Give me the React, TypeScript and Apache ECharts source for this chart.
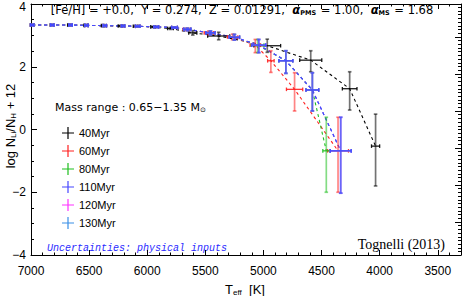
import React, { useEffect, useRef } from "react";
import * as echarts from "echarts";

const ages = ["40Myr", "60Myr", "80Myr", "110Myr", "120Myr", "130Myr"];
const colors = ["#000000", "#ff2020", "#1fbf1f", "#4646ff", "#ff33ff", "#3a8fe6"];

const xTicks = [7000, 6500, 6000, 5500, 5000, 4500, 4000, 3500];
const yTicks = [-4, -2, 0, 2, 4];

// 40 Myr
const teff40 = [6990, 6820, 6670, 6530, 6380, 6230, 6100, 5950, 5800, 5608, 5385, 4967, 4593, 4258, 4035];
const li40 = [3.33, 3.33, 3.33, 3.32, 3.31, 3.3, 3.29, 3.27, 3.22, 3.08, 2.98, 2.67, 2.21, 1.3, -0.53];
const tErr40 = [15, 15, 15, 15, 15, 20, 20, 20, 25, 35, 95, 115, 95, 63, 35];
const liLo40 = [0.02, 0.02, 0.02, 0.02, 0.02, 0.02, 0.02, 0.02, 0.03, 0.07, 0.12, 0.21, 0.37, 0.68, 1.27];
const liHi40 = [0.02, 0.02, 0.02, 0.02, 0.02, 0.02, 0.02, 0.02, 0.03, 0.07, 0.12, 0.21, 0.3, 0.54, 1.02];

// 60 Myr
const teff60 = [6990, 6817, 6660, 6522, 6365, 6208, 6082, 5922, 5765, 5660, 5470, 5265, 5070, 4936, 4732, 4358];
const li60 = [3.33, 3.33, 3.33, 3.32, 3.31, 3.3, 3.29, 3.27, 3.25, 3.19, 3.08, 2.95, 2.69, 2.19, 1.28, -0.68];
const tErr60 = [15, 15, 15, 15, 15, 15, 20, 20, 25, 30, 40, 45, 45, 28, 70, 90];
const liLo60 = [0.02, 0.02, 0.02, 0.02, 0.02, 0.02, 0.02, 0.02, 0.02, 0.04, 0.06, 0.09, 0.24, 0.37, 0.69, 1.32];
const liHi60 = [0.02, 0.02, 0.02, 0.02, 0.02, 0.02, 0.02, 0.02, 0.02, 0.04, 0.06, 0.09, 0.18, 0.32, 0.53, 1.07];

// 80 Myr
const teff80 = [6990, 6817, 6660, 6522, 6365, 6208, 6082, 5922, 5765, 5654, 5456, 5250, 5050, 4807, 4579, 4459];
const li80 = [3.33, 3.33, 3.33, 3.32, 3.31, 3.3, 3.29, 3.27, 3.25, 3.19, 3.08, 2.94, 2.69, 2.19, 1.26, -0.68];
const tErr80 = [15, 15, 15, 15, 15, 15, 20, 20, 25, 30, 40, 45, 55, 60, 55, 30];
const liLo80 = [0.02, 0.02, 0.02, 0.02, 0.02, 0.02, 0.02, 0.02, 0.02, 0.04, 0.06, 0.09, 0.24, 0.4, 0.67, 1.32];
const liHi80 = [0.02, 0.02, 0.02, 0.02, 0.02, 0.02, 0.02, 0.02, 0.02, 0.04, 0.06, 0.09, 0.18, 0.32, 0.55, 1.07];

// 110 / 120 / 130 Myr
const teff110 = [6990, 6817, 6660, 6522, 6365, 6208, 6082, 5922, 5765, 5654, 5456, 5250, 5040, 4807, 4579, 4335];
const li110 = [3.33, 3.33, 3.33, 3.32, 3.31, 3.3, 3.29, 3.27, 3.25, 3.19, 3.08, 2.94, 2.69, 2.19, 1.26, -0.68];
const tErr110 = [15, 15, 15, 15, 15, 15, 20, 20, 25, 30, 40, 45, 60, 60, 55, 90];
const liLo110 = [0.02, 0.02, 0.02, 0.02, 0.02, 0.02, 0.02, 0.02, 0.02, 0.04, 0.06, 0.09, 0.24, 0.4, 0.67, 1.35];
const liHi110 = [0.02, 0.02, 0.02, 0.02, 0.02, 0.02, 0.02, 0.02, 0.02, 0.04, 0.06, 0.09, 0.18, 0.32, 0.55, 1.07];

const sets = [
  { teff: teff40, li: li40, te: tErr40, lo: liLo40, hi: liHi40 },
  { teff: teff60, li: li60, te: tErr60, lo: liLo60, hi: liHi60 },
  { teff: teff80, li: li80, te: tErr80, lo: liLo80, hi: liHi80 },
  { teff: teff110, li: li110, te: tErr110, lo: liLo110, hi: liHi110 },
  { teff: teff110, li: li110, te: tErr110, lo: liLo110, hi: liHi110 },
  { teff: teff110, li: li110, te: tErr110, lo: liLo110, hi: liHi110 },
];

const FONT = "Liberation Sans";
const plusIcon = "path://M0,5.4H12V6.6H0Z M5.4,0H6.6V12H5.4Z";

export default function App() {
  const ref = useRef<HTMLDivElement>(null);
  useEffect(() => {
    if (!ref.current) return;
    document.body.style.margin = "0";
    const chart = echarts.init(ref.current, undefined, { renderer: "svg" });

    const series: any[] = [];
    const order = [0, 1, 2, 4, 5, 3];
    order.forEach((i) => {
      const s = sets[i];
      const color = colors[i];
      series.push({
        type: "line",
        name: ages[i] + " track",
        data: s.teff.map((t, k) => [-t, s.li[k]]),
        symbol: "none",
        lineStyle: { color, width: 1.1, type: [3, 3] },
        z: 2,
        silent: true,
      });
      series.push({
        type: "custom",
        name: ages[i],
        itemStyle: { color },
        z: 3,
        encode: { x: 0, y: 1 },
        data: s.teff.map((t, k) => [-t, s.li[k], s.te[k], s.lo[k], s.hi[k]]),
        renderItem: (params: any, api: any) => {
          const x = api.value(0);
          const y = api.value(1);
          const te = api.value(2);
          const lo = api.value(3);
          const hi = api.value(4);
          const c = api.coord([x, y]);
          const l = api.coord([x - te, y]);
          const r = api.coord([x + te, y]);
          const top = api.coord([x, y + hi]);
          const bot = api.coord([x, y - lo]);
          const cap = 1.8;
          const hs = { stroke: color, lineWidth: 1.3, opacity: 0.9 };
          const vs = { stroke: color, lineWidth: 1.7, opacity: 0.55 };
          return {
            type: "group",
            children: [
              { type: "line", shape: { x1: l[0], y1: c[1], x2: r[0], y2: c[1] }, style: hs },
              { type: "line", shape: { x1: l[0], y1: c[1] - cap, x2: l[0], y2: c[1] + cap }, style: hs },
              { type: "line", shape: { x1: r[0], y1: c[1] - cap, x2: r[0], y2: c[1] + cap }, style: hs },
              { type: "line", shape: { x1: c[0], y1: top[1], x2: c[0], y2: bot[1] }, style: vs },
              { type: "line", shape: { x1: c[0] - cap, y1: top[1], x2: c[0] + cap, y2: top[1] }, style: vs },
              { type: "line", shape: { x1: c[0] - cap, y1: bot[1], x2: c[0] + cap, y2: bot[1] }, style: vs },
            ],
          };
        },
      });
    });

    const rightMinor: number[] = [];
    for (let k = 2; k <= 68; k++) if (k % 10 !== 0) rightMinor.push(k / 10);

    const axisLine = { show: true, onZero: false, lineStyle: { color: "#000", width: 1 } };

    chart.setOption({
      animation: false,
      grid: { left: 31, right: 2, top: 4, bottom: 41, outerBoundsMode: "none" },
      xAxis: [
        {
          type: "value",
          min: -7000,
          max: -3300,
          interval: 500,
          axisLine,
          axisTick: { inside: true, length: 5, lineStyle: { color: "#000" } },
          minorTick: { show: true, splitNumber: 5, length: 2.5, lineStyle: { color: "#000" } },
          splitLine: { show: false },
          axisLabel: {
            color: "#000",
            fontFamily: FONT,
            fontSize: 12,
            margin: 10,
            formatter: (v: number) => (xTicks.includes(-v) ? String(-v) : ""),
          },
        },
        {
          type: "value",
          position: "top",
          min: -7000,
          max: -3300,
          interval: 500,
          axisLine,
          axisTick: { inside: true, length: 5, lineStyle: { color: "#000" } },
          minorTick: { show: true, splitNumber: 5, length: 2.5, lineStyle: { color: "#000" } },
          splitLine: { show: false },
          axisLabel: { show: false },
        },
      ],
      yAxis: [
        {
          type: "value",
          min: -4,
          max: 4,
          interval: 2,
          axisLine,
          axisTick: { inside: true, length: 6, lineStyle: { color: "#000" } },
          minorTick: { show: true, splitNumber: 4, length: 3, lineStyle: { color: "#000" } },
          splitLine: { show: false },
          axisLabel: {
            color: "#000",
            fontFamily: FONT,
            fontSize: 12,
            margin: 5,
            formatter: (v: number) =>
              !yTicks.includes(v)
                ? ""
                : v === 4
                ? "{t|4}"
                : v < 0
                ? "\u2212" + Math.abs(v)
                : String(v),
            rich: { t: { fontFamily: FONT, fontSize: 12, color: "#000", padding: [5, 0, 0, 0] } },
          },
        },
        {
          type: "value",
          position: "right",
          min: 0.108,
          max: 6.89,
          axisLine,
          axisTick: { inside: true, length: 6, customValues: [1, 2, 3, 4, 5, 6], lineStyle: { color: "#000" } },
          splitLine: { show: false },
          axisLabel: { show: false },
        },
        {
          type: "value",
          position: "right",
          min: 0.108,
          max: 6.89,
          axisLine: { show: false },
          axisTick: { inside: true, length: 3, customValues: rightMinor, lineStyle: { color: "#000" } },
          splitLine: { show: false },
          axisLabel: { show: false },
        },
      ],
      legend: {
        data: ages.map((name) => ({ name, icon: plusIcon })),
        orient: "vertical",
        left: 62,
        top: 127,
        padding: 0,
        itemWidth: 12,
        itemHeight: 12,
        itemGap: 6,
        selectedMode: false,
        textStyle: { color: "#000", fontFamily: FONT, fontSize: 11, lineHeight: 12 },
      },
      graphic: [
        {
          type: "text",
          x: 242,
          y: 10,
          style: {
            text: "{n|[Fe/H] = +0.0,  Y = 0.274,  Z = 0.01291,  }{a|\u03b1}{s|PMS}{n| = 1.00,  }{a|\u03b1}{s|MS}{n| = 1.68}",
            align: "center",
            verticalAlign: "middle",
            rich: {
              n: { fontFamily: "DejaVu Sans", fontSize: 11.5, fill: "#000" },
              a: { fontFamily: "DejaVu Sans", fontSize: 11.5, fontWeight: "bold", fontStyle: "italic", fill: "#000" },
              s: { fontFamily: "DejaVu Sans", fontSize: 6.5, fontWeight: "bold", fill: "#000", padding: [6, 1, 0, 0] },
            },
          },
        },
        {
          type: "text",
          x: 55,
          y: 107,
          style: {
            text: "{n|Mass range : 0.65\u22121.35 M}{s|\u2299}",
            align: "left",
            verticalAlign: "middle",
            rich: {
              n: { fontFamily: "DejaVu Sans", fontSize: 11, fill: "#000" },
              s: { fontFamily: "DejaVu Sans", fontSize: 7, fill: "#000", padding: [5, 0, 0, 0] },
            },
          },
        },
        {
          type: "text",
          x: 47,
          y: 248,
          style: {
            text: "Uncertainties: physical inputs",
            align: "left",
            verticalAlign: "middle",
            fontFamily: "Liberation Mono",
            fontStyle: "italic",
            fontSize: 10,
            fill: "#2a2aff",
          },
        },
        {
          type: "text",
          x: 445,
          y: 244,
          style: {
            text: "Tognelli (2013)",
            align: "right",
            verticalAlign: "middle",
            fontFamily: "Liberation Serif",
            fontSize: 14,
            fill: "#000",
          },
        },
        {
          type: "text",
          x: 245,
          y: 289,
          style: {
            text: "{n|T}{s|eff}{n|  [K]}",
            align: "center",
            verticalAlign: "middle",
            rich: {
              n: { fontFamily: FONT, fontSize: 13, fill: "#000" },
              s: { fontFamily: FONT, fontSize: 8, fill: "#000", padding: [6, 0, 0, 0] },
            },
          },
        },
        {
          type: "text",
          x: 10,
          y: 126,
          rotation: Math.PI / 2,
          style: {
            text: "{n|log N}{s|Li}{n|/N}{s|H}{n| + 12}",
            align: "center",
            verticalAlign: "middle",
            rich: {
              n: { fontFamily: FONT, fontSize: 13, fill: "#000" },
              s: { fontFamily: FONT, fontSize: 8, fill: "#000", padding: [6, 0, 0, 0] },
            },
          },
        },
      ],
      series,
    });
    return () => chart.dispose();
  }, []);
  return <div ref={ref} style={{ width: 463, height: 296 }} />;
}
